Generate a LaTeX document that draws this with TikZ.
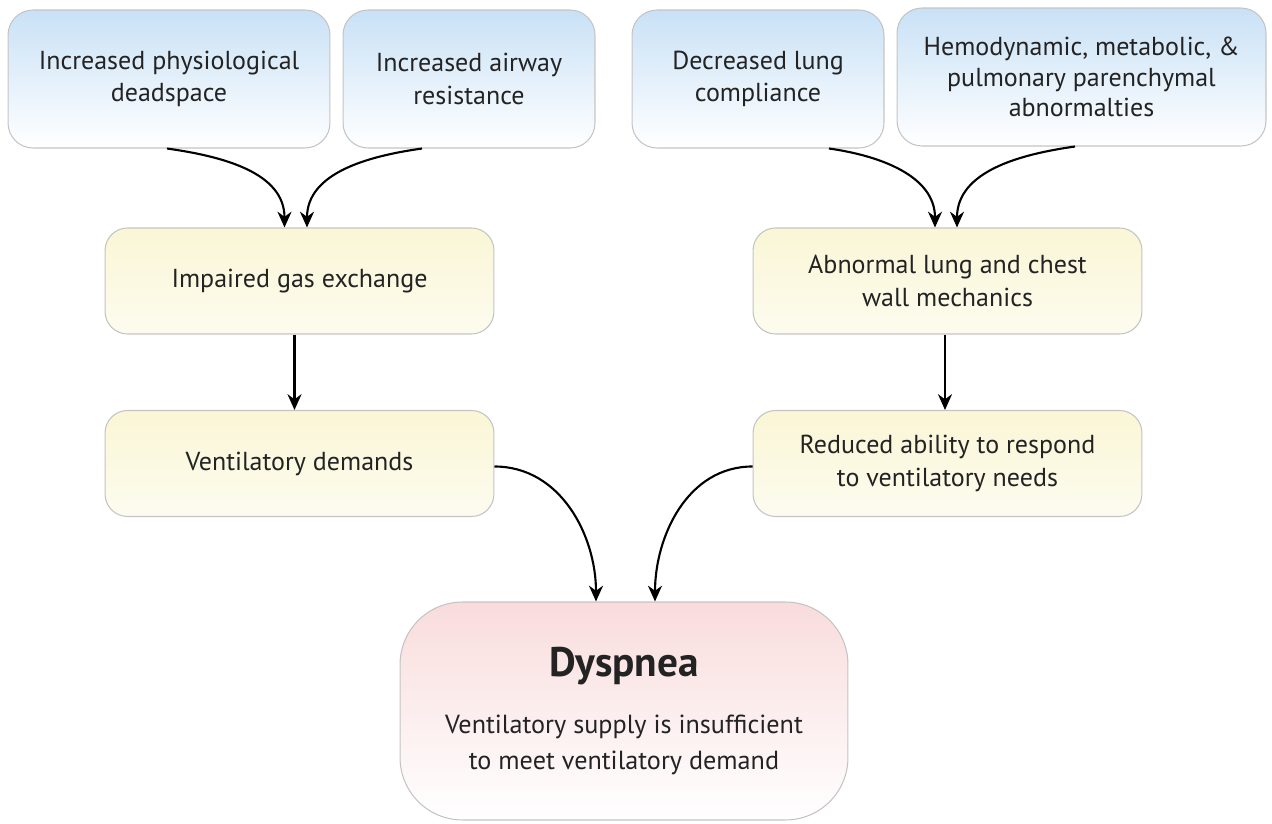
\documentclass[tikz,border=0pt]{standalone}
\usepackage{fontspec}
\setmainfont{PT Sans}
\usetikzlibrary{arrows.meta}

\definecolor{causeblue}{HTML}{C9E1F6}
\definecolor{stepyellow}{HTML}{FAF6D6}
\definecolor{resultpink}{HTML}{F9DCDC}
\definecolor{boxline}{HTML}{C4C4C4}
\definecolor{ink}{HTML}{232323}

\tikzset{
  cause/.style={draw=boxline, line width=0.6pt, rounded corners=0.5cm,
    top color=causeblue, bottom color=white, align=center, inner sep=0pt,
    minimum height=2.76cm, text=ink, font=\fontsize{14.8}{18.4}\selectfont},
  effect/.style={draw=boxline, line width=0.6pt, rounded corners=0.45cm,
    top color=stepyellow, bottom color=white!60!stepyellow, align=center, inner sep=0pt,
    minimum width=7.78cm, minimum height=2.12cm, text=ink,
    font=\fontsize{14.8}{18.6}\selectfont},
  result/.style={draw=boxline, line width=0.6pt, rounded corners=1.25cm,
    top color=resultpink, bottom color=white, align=center, inner sep=0pt,
    minimum width=8.96cm, minimum height=4.36cm, text=ink,
    font=\fontsize{14.9}{20.2}\selectfont},
  flow/.style={line width=1.2pt, -{Stealth[length=9pt,width=8pt]}}
}

\begin{document}
\begin{tikzpicture}[x=0.02cm, y=0.02cm]
  \useasboundingbox (0,0) rectangle (1272,823);

  \node[cause, minimum width=6.44cm] (deadspace) at (169,744) {Increased physiological\\deadspace};
  \node[cause, minimum width=5.04cm] (airway) at (469,744) {Increased airway\\resistance};
  \node[cause, minimum width=5.04cm] (compliance) at (758,744) {Decreased lung\\compliance};
  \node[cause, minimum width=7.38cm, font=\fontsize{14.8}{17.5}\selectfont] (hemo) at (1081.5,746) {Hemodynamic, metabolic, \&\\pulmonary parenchymal\\abnormalties};

  \node[effect] (gas) at (299.5,542) {Impaired gas exchange};
  \node[effect] (mech) at (947.5,542) {Abnormal lung and chest\\wall mechanics};
  \node[effect] (demand) at (299.5,359.5) {Ventilatory demands};
  \node[effect] (ability) at (947.5,359.5) {Reduced ability to respond\\to ventilatory needs};

  \node[result] (dyspnea) at (624,112) {{\fontsize{23.5}{26}\selectfont\bfseries Dyspnea}\\[12pt]
    Ventilatory supply is insufficient\\to meet ventilatory demand};

  \draw[flow] ([xshift=-0.04cm]deadspace.south) to[out=-8, in=90] ([xshift=-0.3cm]gas.north);
  \draw[flow] ([xshift=-0.94cm]airway.south) to[out=188, in=90] ([xshift=0.15cm]gas.north);
  \draw[flow] ([xshift=1.42cm]compliance.south) to[out=-8, in=90] ([xshift=-0.25cm]mech.north);
  \draw[flow] ([xshift=-0.13cm]hemo.south) to[out=188, in=90] ([xshift=0.19cm]mech.north);
  \draw[flow] ([xshift=-0.1cm]gas.south) -- ([xshift=-0.1cm]demand.north);
  \draw[flow] ([xshift=-0.05cm]mech.south) -- ([xshift=-0.05cm]ability.north);
  \draw[flow] ([yshift=-0.06cm]demand.east) to[out=0, in=90] ([xshift=-0.56cm]dyspnea.north);
  \draw[flow] ([yshift=-0.06cm]ability.west) to[out=180, in=90] ([xshift=0.62cm]dyspnea.north);
\end{tikzpicture}
\end{document}
